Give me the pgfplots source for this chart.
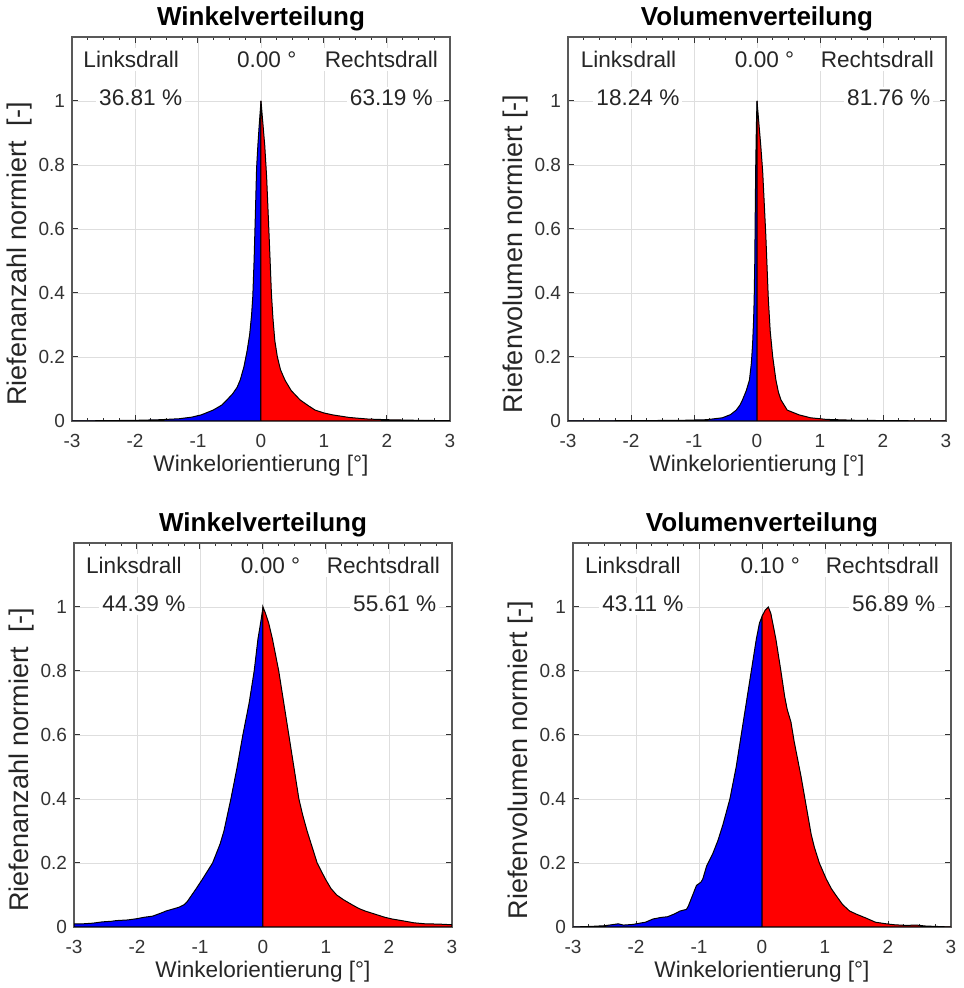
\documentclass[border=0pt]{standalone}
\usepackage{fontspec}
\setmainfont{Liberation Sans}
\usepackage{pgfplots}
\usepackage{pgfplotstable}
\pgfplotsset{compat=1.18}

% Winkelverteilung oben: links / rechts
\pgfplotstableread{
x y
-3.00 0.000
-2.50 0.001
-2.00 0.002
-1.60 0.004
-1.30 0.007
-1.10 0.012
-0.95 0.019
-0.76 0.034
-0.62 0.050
-0.54 0.066
-0.45 0.085
-0.38 0.105
-0.33 0.128
-0.27 0.17
-0.22 0.22
-0.18 0.27
-0.15 0.33
-0.13 0.39
-0.11 0.50
-0.09 0.64
-0.07 0.79
-0.05 0.86
-0.03 0.92
-0.015 0.96
0.00 1.00
}\wlinksA
\pgfplotstableread{
x y
0.00 1.00
0.03 0.93
0.06 0.86
0.09 0.76
0.12 0.62
0.145 0.50
0.165 0.40
0.19 0.32
0.22 0.25
0.26 0.20
0.31 0.16
0.38 0.128
0.48 0.095
0.62 0.066
0.75 0.048
0.86 0.034
1.00 0.025
1.14 0.019
1.40 0.011
1.70 0.006
2.00 0.004
2.50 0.002
3.00 0.001
}\wrechtsA
% Volumenverteilung oben
\pgfplotstableread{
x y
-3.00 0.000
-2.00 0.001
-1.20 0.002
-0.80 0.004
-0.55 0.010
-0.42 0.020
-0.33 0.034
-0.27 0.050
-0.23 0.066
-0.17 0.095
-0.12 0.128
-0.09 0.18
-0.07 0.24
-0.055 0.31
-0.045 0.38
-0.035 0.50
-0.028 0.65
-0.02 0.80
-0.01 0.92
0.00 1.00
}\vlinksA
\pgfplotstableread{
x y
0.00 1.00
0.03 0.93
0.06 0.86
0.09 0.78
0.115 0.68
0.14 0.58
0.16 0.48
0.18 0.38
0.21 0.28
0.25 0.20
0.30 0.128
0.34 0.090
0.38 0.066
0.48 0.034
0.67 0.019
0.85 0.010
1.10 0.005
1.60 0.002
2.20 0.001
3.00 0.000
}\vrechtsA
% Winkelverteilung unten
\pgfplotstableread{
x y
-3.00 0.010
-2.85 0.010
-2.70 0.012
-2.55 0.016
-2.40 0.018
-2.33 0.020
-2.15 0.022
-2.00 0.026
-1.90 0.030
-1.75 0.034
-1.60 0.045
-1.54 0.050
-1.45 0.055
-1.33 0.062
-1.25 0.070
-1.20 0.080
-1.13 0.100
-1.06 0.120
-0.96 0.150
-0.88 0.175
-0.80 0.200
-0.74 0.23
-0.68 0.26
-0.62 0.30
-0.51 0.40
-0.41 0.50
-0.32 0.60
-0.22 0.70
-0.14 0.80
-0.08 0.90
-0.03 0.96
0.00 1.00
}\wlinksB
\pgfplotstableread{
x y
0.00 1.00
0.04 0.98
0.09 0.95
0.15 0.90
0.25 0.80
0.33 0.70
0.41 0.60
0.49 0.50
0.57 0.40
0.63 0.35
0.70 0.30
0.78 0.25
0.86 0.20
0.99 0.15
1.08 0.12
1.17 0.10
1.28 0.085
1.41 0.070
1.52 0.058
1.62 0.050
1.78 0.040
1.94 0.030
2.05 0.025
2.20 0.020
2.40 0.013
2.57 0.010
2.80 0.009
3.00 0.007
}\wrechtsB
% Volumenverteilung unten
\pgfplotstableread{
x y
-3.00 0.000
-2.70 0.002
-2.50 0.004
-2.35 0.008
-2.28 0.010
-2.20 0.006
-2.05 0.008
-1.94 0.012
-1.85 0.015
-1.73 0.025
-1.60 0.030
-1.50 0.032
-1.40 0.040
-1.30 0.050
-1.20 0.055
-1.17 0.065
-1.10 0.10
-1.04 0.13
-0.97 0.14
-0.94 0.15
-0.88 0.19
-0.83 0.21
-0.78 0.23
-0.70 0.27
-0.62 0.32
-0.51 0.40
-0.41 0.50
-0.33 0.60
-0.25 0.70
-0.17 0.80
-0.09 0.90
-0.04 0.95
0.00 0.97
}\vlinksB
\pgfplotstableread{
x y
0.00 0.97
0.05 0.99
0.10 1.00
0.14 0.98
0.17 0.95
0.22 0.90
0.30 0.80
0.36 0.72
0.40 0.68
0.46 0.64
0.51 0.58
0.57 0.52
0.62 0.47
0.70 0.38
0.78 0.29
0.83 0.25
0.91 0.20
1.02 0.15
1.10 0.12
1.17 0.10
1.28 0.07
1.39 0.05
1.50 0.040
1.65 0.028
1.80 0.015
1.97 0.010
2.10 0.007
2.28 0.005
2.45 0.006
2.60 0.003
3.00 0.000
}\vrechtsB

\pgfplotsset{
  panel/.style={
    scale only axis, width=189pt, height=192pt,
    anchor=south west,
    xmin=-3, xmax=3, ymin=0, ymax=1.2,
    xtick={-3,-2,...,3}, ytick={0,0.2,0.4,0.6,0.8,1},
    minor x tick num=3,
    grid=major, major grid style={black!13, line width=0.4pt},
    axis line style={black!65, line width=0.6pt},
    tick style={black!80, line width=0.5pt},
    major tick length=3pt, minor tick length=1.6pt,
    /pgf/number format/assume math mode=true,
    tick label style={font=\fontsize{9.5}{11}\selectfont, text=black!80},
    xticklabel style={yshift=-3pt},
    yticklabel style={/pgf/number format/fixed},
    xlabel={Winkelorientierung [°]},
    xlabel style={font=\fontsize{11.3}{13}\selectfont, text=black!85,
      at={(axis description cs:0.5,-0.117)}, anchor=center},
    ylabel style={font=\fontsize{13.5}{15}\selectfont, text=black!85,
      at={(axis description cs:-0.14,0.435)}, anchor=center},
    title style={font=\bfseries\fontsize{13}{15}\selectfont,
      at={(axis description cs:0.5,1.016)}, anchor=center},
  },
}
\tikzset{
  anno/.style={font=\fontsize{11.3}{13}\selectfont, text=black!85,
    fill=white, inner sep=1.5pt},
  links/.style={fill=blue, draw=black, line width=0.5pt},
  rechts/.style={fill=red, draw=black, line width=0.5pt},
}

\begin{document}
\begin{tikzpicture}
\path[use as bounding box] (0,0) rectangle (481.5pt,494pt);

\begin{axis}[panel, at={(36pt,283.5pt)},
  title={Winkelverteilung}, ylabel={Riefenanzahl normiert\ \ [-]}]
\addplot[links] table {\wlinksA} \closedcycle;
\addplot[rechts] table {\wrechtsA} \closedcycle;
\node[anno] at (axis cs:-2.06,1.13) {Linksdrall};
\node[anno] at (axis cs:0.09,1.13) {0.00 °};
\node[anno] at (axis cs:1.91,1.13) {Rechtsdrall};
\node[anno] at (axis cs:-1.91,1.01) {36.81 \%};
\node[anno] at (axis cs:2.07,1.01) {63.19 \%};
\end{axis}

\begin{axis}[panel, at={(284pt,283.5pt)},
  title={Volumenverteilung}, ylabel={Riefenvolumen normiert [-]}]
\addplot[links] table {\vlinksA} \closedcycle;
\addplot[rechts] table {\vrechtsA} \closedcycle;
\node[anno] at (axis cs:-2.04,1.13) {Linksdrall};
\node[anno] at (axis cs:0.12,1.13) {0.00 °};
\node[anno] at (axis cs:1.91,1.13) {Rechtsdrall};
\node[anno] at (axis cs:-1.89,1.01) {18.24 \%};
\node[anno] at (axis cs:2.09,1.01) {81.76 \%};
\end{axis}

\begin{axis}[panel, at={(37pt,30.5pt)},
  title={Winkelverteilung}, ylabel={Riefenanzahl normiert\ \ [-]}]
\addplot[links] table {\wlinksB} \closedcycle;
\addplot[rechts] table {\wrechtsB} \closedcycle;
\node[anno] at (axis cs:-2.05,1.13) {Linksdrall};
\node[anno] at (axis cs:0.12,1.13) {0.00 °};
\node[anno] at (axis cs:1.91,1.13) {Rechtsdrall};
\node[anno] at (axis cs:-1.89,1.01) {44.39 \%};
\node[anno] at (axis cs:2.09,1.01) {55.61 \%};
\end{axis}

\begin{axis}[panel, at={(286.5pt,30.5pt)},
  title={Volumenverteilung}, ylabel={Riefenvolumen normiert [-]}]
\addplot[links] table {\vlinksB} \closedcycle;
\addplot[rechts] table {\vrechtsB} \closedcycle;
\node[anno] at (axis cs:-2.05,1.13) {Linksdrall};
\node[anno] at (axis cs:0.13,1.13) {0.10 °};
\node[anno] at (axis cs:1.91,1.13) {Rechtsdrall};
\node[anno] at (axis cs:-1.89,1.01) {43.11 \%};
\node[anno] at (axis cs:2.09,1.01) {56.89 \%};
\end{axis}
\end{tikzpicture}
\end{document}
